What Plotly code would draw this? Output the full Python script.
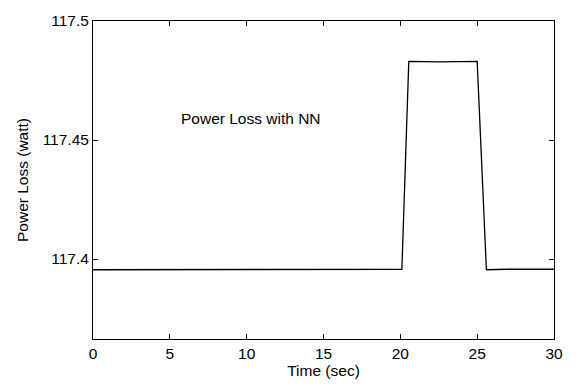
import plotly.graph_objects as go

time_sec = [0, 5, 10, 15, 20.1, 20.55, 22.5, 25.0, 25.6, 27.0, 30]
power_loss = [117.3955, 117.3955, 117.3957, 117.3957, 117.3957, 117.483, 117.4828, 117.483, 117.3955, 117.3957, 117.3957]

x_ticks = [0, 5, 10, 15, 20, 25, 30]
y_ticks = [117.4, 117.45, 117.5]
y_tick_labels = ["117.4", "117.45", "117.5"]

FONT = "Liberation Sans, Arial, sans-serif"

fig = go.Figure()
fig.add_trace(go.Scatter(x=time_sec, y=power_loss, mode="lines",
                         line=dict(color="black", width=1.3), showlegend=False))

fig.add_annotation(x=10.25, y=117.459, text="Power Loss with NN", showarrow=False,
                   font=dict(family=FONT, size=15.5, color="black"))

axis_common = dict(showline=True, linecolor="black", linewidth=1, mirror="ticks",
                   ticks="inside", ticklen=5, tickcolor="black", showgrid=False, zeroline=False,
                   tickfont=dict(family=FONT, size=15.5, color="black"))

fig.update_xaxes(range=[0, 30], tickvals=x_ticks,
                 title=dict(text="Time (sec)", standoff=2,
                            font=dict(family=FONT, size=15.5, color="black")),
                 **axis_common)
fig.update_yaxes(range=[117.3664, 117.5], tickvals=y_ticks, ticktext=y_tick_labels,
                 title=dict(text="Power Loss (watt)", standoff=10,
                            font=dict(family=FONT, size=15.5, color="black")),
                 **axis_common)

fig.update_layout(width=575, height=386, margin=dict(l=93, r=18, t=14, b=41),
                  plot_bgcolor="white", paper_bgcolor="white")

fig.write_html("out.html")
